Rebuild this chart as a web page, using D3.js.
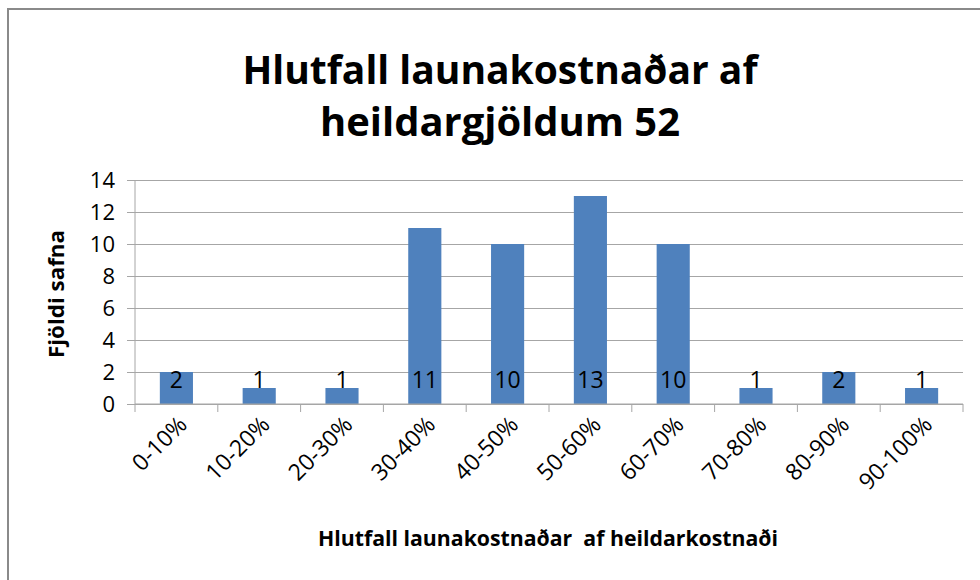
<!DOCTYPE html>
<html>
<head>
<meta charset="utf-8">
<script src="https://cdn.jsdelivr.net/npm/d3@7.9.0/dist/d3.min.js"></script>
<style>
  body { margin: 0; background: #fff; }
  svg { display: block; font-family: "Open Sans", Lato, sans-serif; }
</style>
</head>
<body>
<svg id="chart" width="980" height="580"></svg>
<script>
// Data
const categories = ['0-10%', '10-20%', '20-30%', '30-40%', '40-50%', '50-60%', '60-70%', '70-80%', '80-90%', '90-100%'];
const counts = [2, 1, 1, 11, 10, 13, 10, 1, 2, 1];
const yTicks = [0, 2, 4, 6, 8, 10, 12, 14];
const titleLines = ['Hlutfall launakostnaðar af', 'heildargjöldum 52'];
const xTitle = 'Hlutfall launakostnaðar  af heildarkostnaði';
const yTitle = 'Fjöldi safna';

const svg = d3.select('#chart');
const margin = { left: 135, right: 17, top: 180, bottom: 176 };
const width = 980 - margin.left - margin.right;
const height = 580 - margin.top - margin.bottom;

// Outer chart frame (only top and left edges are visible in the crop)
svg.append('line').attr('x1', 7).attr('x2', 980).attr('y1', 9).attr('y2', 9)
  .attr('stroke', '#8a8a8a').attr('stroke-width', 2);
svg.append('line').attr('x1', 8).attr('x2', 8).attr('y1', 8).attr('y2', 580)
  .attr('stroke', '#8a8a8a').attr('stroke-width', 2);

// Title
const titleWidths = [515, 360];
svg.append('g').selectAll('text')
  .data(titleLines)
  .join('text')
  .attr('x', 500)
  .attr('y', (d, i) => 84 + i * 52)
  .attr('text-anchor', 'middle')
  .attr('font-size', 40)
  .attr('font-weight', 'bold')
  .attr('fill', '#000')
  .attr('textLength', (d, i) => titleWidths[i])
  .attr('lengthAdjust', 'spacingAndGlyphs')
  .text(d => d);

const g = svg.append('g').attr('transform', `translate(${margin.left},${margin.top})`);

const x = d3.scaleBand().domain(categories).range([0, width]).paddingInner(0.6).paddingOuter(0.3);
const xTickScale = d3.scaleLinear().domain([0, categories.length]).range([0, width]);
const y = d3.scaleLinear().domain([0, 14]).range([height, 0]);

// Gridlines + y axis
const yAxis = g.append('g')
  .call(d3.axisLeft(y).tickValues(yTicks).tickSize(-width).tickPadding(20).tickFormat(d3.format('d')));
yAxis.select('.domain').remove();
yAxis.selectAll('.tick line').attr('stroke', '#a6a6a6').attr('x1', -8);
yAxis.selectAll('.tick text')
  .attr('font-size', 22).attr('fill', '#000')
  .attr('font-family', '"Open Sans", Lato, sans-serif');

// y axis line
g.append('line').attr('x1', 0).attr('x2', 0).attr('y1', 0).attr('y2', height)
  .attr('stroke', '#a6a6a6');

// Bars
g.append('g').selectAll('rect')
  .data(counts)
  .join('rect')
  .attr('x', (d, i) => x(categories[i]))
  .attr('y', d => y(d))
  .attr('width', x.bandwidth())
  .attr('height', d => y(0) - y(d))
  .attr('fill', '#4f81bd');

// Data labels at the bar base
g.append('g').selectAll('text')
  .data(counts)
  .join('text')
  .attr('x', (d, i) => x(categories[i]) + x.bandwidth() / 2)
  .attr('y', y(0) - 16)
  .attr('text-anchor', 'middle')
  .attr('font-size', 23)
  .attr('fill', '#000')
  .text(d => d);

// x axis line with tick marks at band boundaries
g.append('line').attr('x1', 0).attr('x2', width).attr('y1', height).attr('y2', height)
  .attr('stroke', '#a6a6a6');
g.append('g').selectAll('line')
  .data(d3.range(categories.length + 1))
  .join('line')
  .attr('x1', d => xTickScale(d)).attr('x2', d => xTickScale(d))
  .attr('y1', height).attr('y2', height + 8)
  .attr('stroke', '#a6a6a6');

// x category labels, rotated
g.append('g').selectAll('text')
  .data(categories)
  .join('text')
  .attr('transform', d => `translate(${x(d) + x.bandwidth() / 2 + 12},${height + 22}) rotate(-45)`)
  .attr('text-anchor', 'end')
  .attr('font-size', 23)
  .attr('fill', '#000')
  .text(d => d);

// Axis titles
svg.append('text')
  .attr('x', 548).attr('y', 546)
  .attr('text-anchor', 'middle')
  .attr('font-size', 21)
  .attr('font-weight', 'bold')
  .attr('fill', '#000')
  .attr('textLength', 460)
  .attr('lengthAdjust', 'spacingAndGlyphs')
  .style('white-space', 'pre')
  .text(xTitle);

svg.append('text')
  .attr('transform', 'translate(64,294) rotate(-90)')
  .attr('text-anchor', 'middle')
  .attr('font-size', 21)
  .attr('font-weight', 'bold')
  .attr('fill', '#000')
  .attr('textLength', 128)
  .attr('lengthAdjust', 'spacingAndGlyphs')
  .text(yTitle);
</script>
</body>
</html>
